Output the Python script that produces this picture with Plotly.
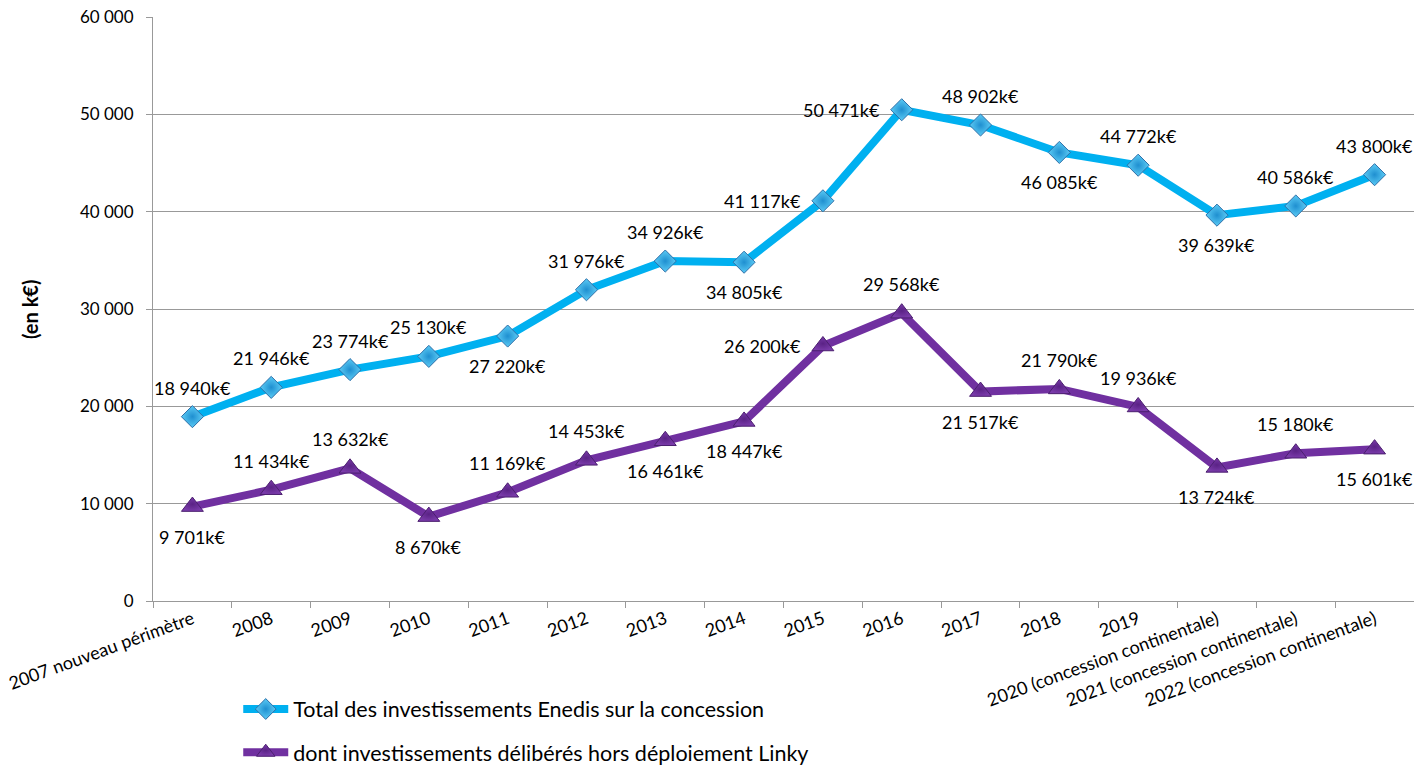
import plotly.graph_objects as go

categories = ["2007 nouveau périmètre", "2008", "2009", "2010", "2011", "2012", "2013", "2014",
              "2015", "2016", "2017", "2018", "2019",
              "2020 (concession continentale)", "2021 (concession continentale)",
              "2022 (concession continentale)"]
total = [18940, 21946, 23774, 25130, 27220, 31976, 34926, 34805,
         41117, 50471, 48902, 46085, 44772, 39639, 40586, 43800]
hors_linky = [9701, 11434, 13632, 8670, 11169, 14453, 16461, 18447,
              26200, 29568, 21517, 21790, 19936, 13724, 15180, 15601]
total_pos = ["top", "top", "top", "top", "bottom", "top", "top", "bottom",
             "left", "left", "top", "bottom", "top", "bottom", "top", "top"]
linky_pos = ["bottom", "top", "top", "bottom", "top", "top", "bottom", "bottom",
             "left", "top", "bottom", "top", "top", "bottom", "top", "bottom"]
name_total = "Total des investissements Enedis sur la concession"
name_linky = "dont investissements délibérés hors déploiement Linky"

def fmt(v):
    return f"{v:,}".replace(",", " ") + "k€"

FONT = "Lato, 'Open Sans', sans-serif"

fig = go.Figure()
fig.add_trace(go.Scatter(
    x=categories, y=total, name=name_total, mode="lines+markers",
    line=dict(color="#00B0F0", width=8),
    marker=dict(symbol="diamond", size=17, color="#5BCBF5",
                gradient=dict(type="radial", color="#1F8FD0"),
                line=dict(color="#2E6FA8", width=1)),
    legend="legend", cliponaxis=False,
))
fig.add_trace(go.Scatter(
    x=categories, y=hors_linky, name=name_linky, mode="lines+markers",
    line=dict(color="#7030A0", width=8),
    marker=dict(symbol="triangle-up", size=19, color="#7A3BAA",
                gradient=dict(type="radial", color="#5A2285"),
                line=dict(color="#4B1F6F", width=1)),
    legend="legend2", cliponaxis=False,
))

annotations = []
for values, positions in ((total, total_pos), (hors_linky, linky_pos)):
    for i, (v, p) in enumerate(zip(values, positions)):
        # x given as category index (numeric-looking names would be misread)
        a = dict(x=i, y=v, xref="x", yref="y", text=fmt(v), showarrow=False,
                 font=dict(size=18, color="black", family=FONT), yanchor="middle")
        if p == "top":
            a.update(xanchor="center", yshift=29)
        elif p == "bottom":
            a.update(xanchor="center", yshift=-30)
        else:
            a.update(xanchor="right", xshift=-20)
        annotations.append(a)

annotations.append(dict(text="<b>(en k€)</b>", xref="paper", yref="paper",
                        x=-0.0975, y=0.5, xanchor="center", yanchor="middle",
                        textangle=-90, showarrow=False,
                        font=dict(size=20, family=FONT)))

fig.update_layout(
    width=1414, height=767, showlegend=True,
    margin=dict(l=153, r=0, t=17, b=166, autoexpand=False),
    paper_bgcolor="white", plot_bgcolor="white",
    font=dict(family=FONT, size=16, color="black"),
    separators=", ",
    legend=dict(x=0.0676, y=-0.185, xanchor="left", yanchor="middle", itemwidth=45,
                font=dict(size=21.5, family=FONT), bgcolor="rgba(0,0,0,0)"),
    legend2=dict(x=0.0676, y=-0.259, xanchor="left", yanchor="middle", itemwidth=45,
                 font=dict(size=21.5, family=FONT), bgcolor="rgba(0,0,0,0)"),
    xaxis=dict(type="category", range=[-0.5, len(categories) - 0.5], tickangle=-20,
               ticks="outside", tickson="boundaries",
               ticklen=6, tickcolor="#999999", showline=True, linecolor="#999999",
               linewidth=1, showgrid=False, automargin=False,
               tickfont=dict(size=18, family=FONT)),
    yaxis=dict(range=[0, 60000], dtick=10000, tickformat=",d", ticks="outside",
               ticklen=6, tickcolor="#999999", showline=True, linecolor="#999999",
               gridcolor="#999999", gridwidth=1, zeroline=False, automargin=False,
               ticklabelstandoff=9, tickfont=dict(size=17, family=FONT)),
    annotations=annotations,
)

fig.write_html("out.html", config={"displayModeBar": False},
               post_script="document.body.style.margin='0px';")
